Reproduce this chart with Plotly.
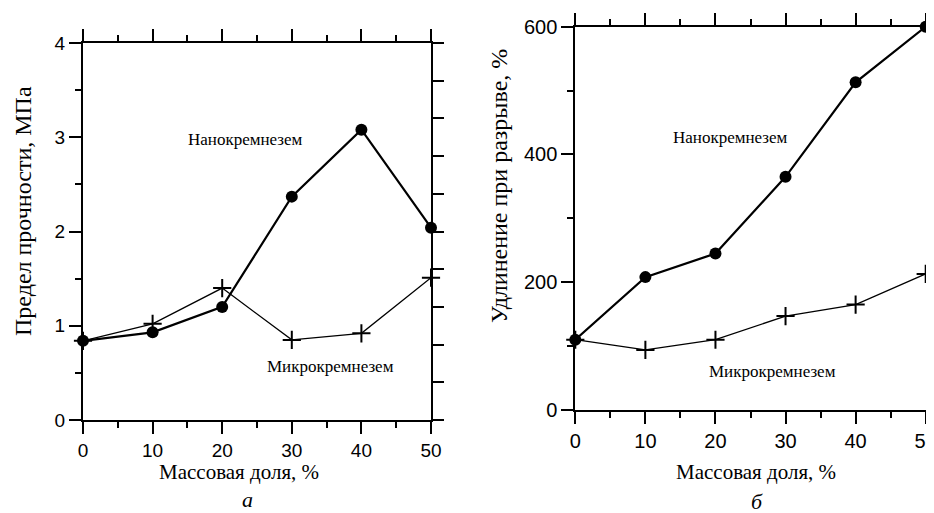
import plotly.graph_objects as go

# ---- data ----
mass_share = [0, 10, 20, 30, 40, 50]
strength_nano = [0.84, 0.93, 1.20, 2.37, 3.08, 2.04]
strength_micro = [0.84, 1.02, 1.40, 0.85, 0.92, 1.51]
elong_nano = [110, 208, 245, 365, 513, 600]
elong_micro = [110, 94, 110, 147, 165, 213]

label_nano = "Нанокремнезем"
label_micro = "Микрокремнезем"
title_x = "Массовая доля, %"
title_y_left = "Предел прочности, МПа"
title_y_right = "Удлинение при разрыве, %"
panel_left = "а"
panel_right = "б"

# page body has an 8px margin -> figure occupies the rest of the 934x513 window
OFF = 8
W, H = 934 - OFF, 513 - OFF

def px_x(p):
    return (p - OFF) / W

def px_y(p):
    return 1 - (p - OFF) / H

SERIF = "Liberation Serif"
SANS = "Liberation Sans"

fig = go.Figure()

nano_style = dict(mode="lines+markers", line=dict(color="black", width=2.2),
                  marker=dict(symbol="circle", size=12, color="black"),
                  cliponaxis=False, showlegend=False, hoverinfo="skip")
micro_style = dict(mode="lines+markers", line=dict(color="black", width=1.3),
                   marker=dict(symbol="cross-thin", size=13, color="black",
                               line=dict(width=2, color="black")),
                   cliponaxis=False, showlegend=False, hoverinfo="skip")

# left panel
fig.add_trace(go.Scatter(x=mass_share, y=strength_micro, xaxis="x", yaxis="y", **micro_style))
fig.add_trace(go.Scatter(x=mass_share, y=strength_nano, xaxis="x", yaxis="y", **nano_style))
fig.add_trace(go.Scatter(x=[], y=[], xaxis="x", yaxis="y3", showlegend=False, hoverinfo="skip"))
# right panel
fig.add_trace(go.Scatter(x=mass_share, y=elong_micro, xaxis="x2", yaxis="y2", **micro_style))
fig.add_trace(go.Scatter(x=mass_share, y=elong_nano, xaxis="x2", yaxis="y2", **nano_style))
fig.add_trace(go.Scatter(x=[], y=[], xaxis="x2", yaxis="y4", showlegend=False, hoverinfo="skip"))

xcommon = dict(range=[0, 50], dtick=10, tick0=0, ticks="outside", ticklen=12, tickwidth=2,
               tickcolor="black", showline=True, linewidth=2, linecolor="black",
               mirror="ticks", showgrid=False, zeroline=False, automargin=False,
               ticklabeloverflow="allow",
               minor=dict(dtick=5, tick0=0, ticks="outside", ticklen=6, tickwidth=2,
                          tickcolor="black", showgrid=False))
ycommon = dict(ticks="outside", ticklen=12, tickwidth=2, tickcolor="black",
               showline=True, linewidth=2, linecolor="black", mirror=True,
               showgrid=False, zeroline=False, automargin=False)

fig.update_layout(
    width=W, height=H,
    margin=dict(l=0, r=0, t=0, b=0),
    paper_bgcolor="white", plot_bgcolor="white",
    xaxis=dict(domain=[px_x(83), px_x(431)], anchor="y",
               tickfont=dict(family=SANS, size=19, color="black"), **xcommon),
    yaxis=dict(domain=[px_y(420), px_y(43)], anchor="x", range=[0, 4], dtick=1, tick0=0,
               tickfont=dict(family=SANS, size=19, color="black"),
               minor=dict(dtick=0.5, tick0=0, ticks="outside", ticklen=6, tickwidth=2,
                          tickcolor="black", showgrid=False),
               **ycommon),
    yaxis3=dict(overlaying="y", side="right", anchor="x", range=[0, 4], dtick=0.4, tick0=0,
                ticks="outside", ticklen=12, tickwidth=2, tickcolor="black",
                showticklabels=False, showline=False, showgrid=False, zeroline=False,
                automargin=False),
    xaxis2=dict(domain=[px_x(575.3), px_x(925.7)], anchor="y2",
                tickfont=dict(family=SANS, size=20, color="black"), **xcommon),
    yaxis2=dict(domain=[px_y(410), px_y(26.7)], anchor="x2", range=[0, 600], dtick=200, tick0=0,
                tickfont=dict(family=SANS, size=20, color="black"),
                minor=dict(dtick=100, tick0=0, ticks="outside", ticklen=6, tickwidth=2,
                           tickcolor="black", showgrid=False),
                **ycommon),
    yaxis4=dict(overlaying="y2", side="right", anchor="x2", range=[0, 600], dtick=60, tick0=0,
                ticks="outside", ticklen=12, tickwidth=2, tickcolor="black",
                showticklabels=False, showline=False, showgrid=False, zeroline=False,
                automargin=False),
)

C = dict(xanchor="center", yanchor="middle", showarrow=False)
ann = []
# series labels
lab_font = dict(family=SERIF, size=17, color="black")
ann.append(dict(x=23.3, y=2.98, xref="x", yref="y", text=label_nano, font=lab_font, **C))
ann.append(dict(x=35.6, y=0.57, xref="x", yref="y", text=label_micro, font=lab_font, **C))
ann.append(dict(x=22.1, y=427, xref="x2", yref="y2", text=label_nano, font=lab_font, **C))
ann.append(dict(x=28.1, y=60, xref="x2", yref="y2", text=label_micro, font=lab_font, **C))
# axis titles
xt_font = dict(family=SERIF, size=21, color="black")
yt_font = dict(family=SERIF, size=24, color="black")
ann.append(dict(x=px_x(238.5), y=px_y(472), xref="paper", yref="paper", text=title_x,
                font=xt_font, **C))
ann.append(dict(x=px_x(756), y=px_y(472), xref="paper", yref="paper", text=title_x,
                font=xt_font, **C))
ann.append(dict(x=px_x(23), y=px_y(211), xref="paper", yref="paper", text=title_y_left,
                textangle=-90, font=yt_font, **C))
ann.append(dict(x=px_x(499), y=px_y(186), xref="paper", yref="paper", text=title_y_right,
                textangle=-90, font=yt_font, **C))
# panel letters
pl_font = dict(family=SERIF, size=22, color="black")
ann.append(dict(x=px_x(247), y=px_y(499), xref="paper", yref="paper",
                text="<i>" + panel_left + "</i>", font=pl_font, **C))
ann.append(dict(x=px_x(757), y=px_y(501), xref="paper", yref="paper",
                text="<i>" + panel_right + "</i>", font=pl_font, **C))

fig.update_layout(annotations=ann)

fig.write_html("out.html")
